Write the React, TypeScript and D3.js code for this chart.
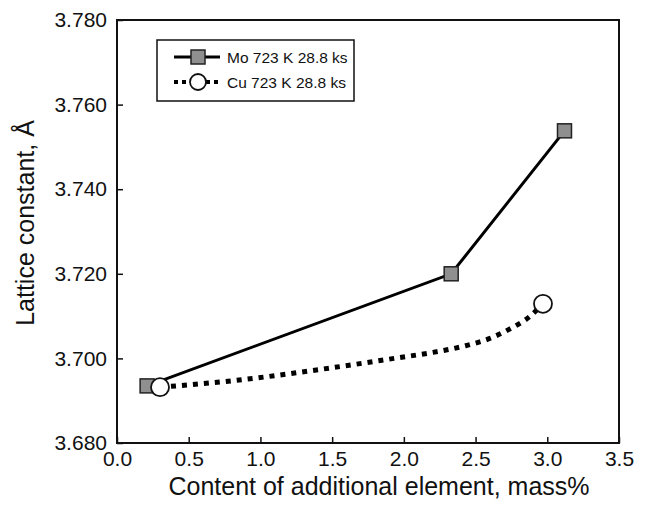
import * as d3 from 'd3';
import { useEffect, useRef } from 'react';

// Mo 723 K 28.8 ks
const moContent = [0.21, 2.33, 3.12];
const moLattice = [3.6935, 3.72, 3.7538];

// Cu 723 K 28.8 ks (markers)
const cuContent = [0.3, 2.97];
const cuLattice = [3.6932, 3.7129];

// Cu dotted curve
const cuCurveContent = [0.3, 0.8, 1.5, 1.97, 2.2, 2.43, 2.59, 2.73, 2.885, 2.97];
const cuCurveLattice = [3.6932, 3.6947, 3.6978, 3.7002, 3.7014, 3.703, 3.7046, 3.7068, 3.7101, 3.7129];

const xTicks = [0, 0.5, 1, 1.5, 2, 2.5, 3, 3.5];
const yTicks = [3.68, 3.7, 3.72, 3.74, 3.76, 3.78];

const legendLabels = ['Mo 723 K 28.8 ks', 'Cu 723 K 28.8 ks'];

const WIDTH = 651;
const HEIGHT = 509;
const FONT = 'Liberation Sans, Arial, sans-serif';

export default function App() {
  const svgRef = useRef<SVGSVGElement | null>(null);

  useEffect(() => {
    if (!svgRef.current) return;
    const svg = d3.select(svgRef.current);
    svg.selectAll('*').remove();

    const margin = { left: 117, right: WIDTH - 619, top: 20, bottom: HEIGHT - 443 };
    const innerW = WIDTH - margin.left - margin.right;
    const innerH = HEIGHT - margin.top - margin.bottom;

    const x = d3.scaleLinear().domain([0, 3.5]).range([0, innerW]);
    const y = d3.scaleLinear().domain([3.68, 3.78]).range([innerH, 0]);

    const g = svg.append('g').attr('transform', `translate(${margin.left},${margin.top})`);

    // axes, ticks pointing inward
    const xAxis = g
      .append('g')
      .attr('transform', `translate(0,${innerH})`)
      .call(
        d3
          .axisBottom(x)
          .tickValues(xTicks)
          .tickSizeInner(-6)
          .tickSizeOuter(0)
          .tickPadding(8)
          .tickFormat((d) => d3.format('.1f')(d as number)),
      );
    const yAxis = g.append('g').call(
      d3
        .axisLeft(y)
        .tickValues(yTicks)
        .tickSizeInner(-6)
        .tickSizeOuter(0)
        .tickPadding(10)
        .tickFormat((d) => d3.format('.3f')(d as number)),
    );
    [xAxis, yAxis].forEach((ax) => {
      ax.select('.domain').remove();
      ax.selectAll('line').attr('stroke', '#111').attr('stroke-width', 1.5);
      ax.selectAll('text').attr('font-family', FONT).attr('font-size', 21).attr('fill', '#111');
    });

    g.append('rect')
      .attr('width', innerW)
      .attr('height', innerH)
      .attr('fill', 'none')
      .attr('stroke', '#111')
      .attr('stroke-width', 2);

    // Mo line + squares
    const moPts = moContent.map((c, i) => [x(c), y(moLattice[i])] as [number, number]);
    g.append('path')
      .attr('d', d3.line()(moPts))
      .attr('fill', 'none')
      .attr('stroke', '#000')
      .attr('stroke-width', 3);
    g.selectAll('.mo')
      .data(moPts)
      .join('rect')
      .attr('x', (d) => d[0] - 7)
      .attr('y', (d) => d[1] - 7)
      .attr('width', 14)
      .attr('height', 14)
      .attr('fill', '#8f8f8f')
      .attr('stroke', '#222')
      .attr('stroke-width', 1.5);

    // Cu dotted curve + circles
    const cuCurve = cuCurveContent.map((c, i) => [x(c), y(cuCurveLattice[i])] as [number, number]);
    g.append('path')
      .attr('d', d3.line().curve(d3.curveMonotoneX)(cuCurve))
      .attr('fill', 'none')
      .attr('stroke', '#000')
      .attr('stroke-width', 5)
      .attr('stroke-dasharray', '5,6');
    const cuPts = cuContent.map((c, i) => [x(c), y(cuLattice[i])] as [number, number]);
    g.selectAll('.cu')
      .data(cuPts)
      .join('circle')
      .attr('cx', (d) => d[0])
      .attr('cy', (d) => d[1])
      .attr('r', 9)
      .attr('fill', '#fff')
      .attr('stroke', '#111')
      .attr('stroke-width', 1.8);

    // legend
    const legend = svg.append('g');
    legend
      .append('rect')
      .attr('x', 157)
      .attr('y', 40)
      .attr('width', 197)
      .attr('height', 61)
      .attr('fill', '#fff')
      .attr('stroke', '#111')
      .attr('stroke-width', 1.5);
    const rowY = [57, 82];
    legendLabels.forEach((label, i) => {
      const ry = rowY[i];
      legend
        .append('line')
        .attr('x1', 174)
        .attr('x2', 220)
        .attr('y1', ry)
        .attr('y2', ry)
        .attr('stroke', '#000')
        .attr('stroke-width', i === 0 ? 3 : 4)
        .attr('stroke-dasharray', i === 0 ? null : '4,4');
      if (i === 0) {
        legend
          .append('rect')
          .attr('x', 191)
          .attr('y', ry - 7)
          .attr('width', 14)
          .attr('height', 14)
          .attr('fill', '#8f8f8f')
          .attr('stroke', '#222')
          .attr('stroke-width', 1.5);
      } else {
        legend
          .append('circle')
          .attr('cx', 198)
          .attr('cy', ry)
          .attr('r', 8)
          .attr('fill', '#fff')
          .attr('stroke', '#111')
          .attr('stroke-width', 1.8);
      }
      legend
        .append('text')
        .attr('x', 227)
        .attr('y', ry + 5.5)
        .attr('font-family', FONT)
        .attr('font-size', 15.5)
        .attr('fill', '#111')
        .text(label);
    });

    // axis titles
    svg
      .append('text')
      .attr('x', 379)
      .attr('y', 495)
      .attr('text-anchor', 'middle')
      .attr('font-family', FONT)
      .attr('font-size', 25)
      .attr('fill', '#111')
      .text('Content of additional element, mass%');
    svg
      .append('text')
      .attr('transform', `translate(34,223) rotate(-90)`)
      .attr('text-anchor', 'middle')
      .attr('font-family', FONT)
      .attr('font-size', 25)
      .attr('fill', '#111')
      .text('Lattice constant, Å');
  }, []);

  return (
    <div style={{ position: 'absolute', left: 0, top: 0, background: '#fff' }}>
      <svg ref={svgRef} width={WIDTH} height={HEIGHT} style={{ display: 'block' }} />
    </div>
  );
}
